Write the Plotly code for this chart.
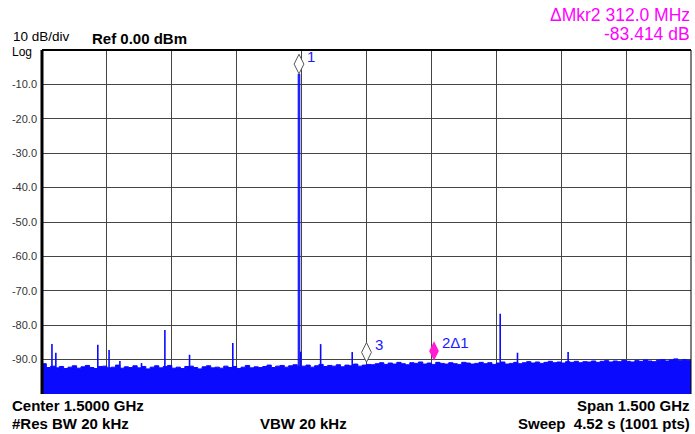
import plotly.graph_objects as go

# ---------------- data ----------------
start_mhz = 750.0
stop_mhz = 2250.0
floor_step_mhz = 10.0
# noise floor (dBm), hand read, one value per 10 MHz from 750 to 2250 MHz
floor_dbm = [
    -91.2, -92.3, -91.9, -92.4, -92.0, -92.6, -92.2, -91.8, -92.5, -92.1, -91.7, -92.3, -92.6,
    -92.0, -91.9, -92.4, -92.2, -91.6, -92.5, -92.1, -92.3, -91.8, -92.4, -92.0, -92.7, -92.2,
    -91.8, -92.4, -92.0, -91.7, -92.5, -92.2, -92.6, -92.0, -91.9, -92.3, -92.7, -92.1, -91.8,
    -92.4, -92.2, -92.5, -91.9, -92.3, -92.0, -92.6, -92.2, -91.7, -92.4, -92.1, -92.3,
    -92.0, -91.6, -92.3, -91.9, -91.7, -92.2, -91.8, -91.5, -92.1, -91.9, -91.6, -92.2, -91.8,
    -91.4, -92.0, -91.7, -91.9, -91.5, -92.1, -91.6, -91.8, -91.3, -91.9, -91.6, -91.4,
    -91.5, -91.2, -90.9, -91.4, -91.0, -91.3, -90.8, -91.2, -91.5, -90.9, -91.1, -90.7, -91.3,
    -91.0, -91.4, -90.8, -91.1, -91.3, -90.9, -91.2, -91.4, -90.8, -91.0, -91.3, -91.1,
    -90.8, -91.2, -90.9, -91.4, -91.0, -90.7, -91.3, -91.1, -90.8, -91.2, -90.9, -90.6, -91.0,
    -90.7, -91.1, -90.8, -90.5, -90.9, -90.7, -91.0, -90.6, -90.8, -90.5, -90.9, -90.6,
    -90.7, -90.4, -90.8, -90.5, -90.3, -90.7, -90.4, -90.6, -90.2, -90.5, -90.7, -90.3, -90.5,
    -90.1, -90.4, -90.6, -90.2, -90.0, -90.4, -90.1, -89.8, -90.3, -90.0, -90.2, -89.9,
]

# spurs (MHz, dBm)
spur_freqs = [773, 782, 879, 905, 930, 980, 1034, 1091, 1191, 1348, 1394, 1467, 1809, 1849, 1966]
spur_levels = [-85.5, -88.0, -85.7, -87.2, -90.4, -91.0, -81.4, -88.6, -85.2, -87.7, -85.5, -87.8,
               -76.7, -88.0, -87.8]

# carrier
carrier_freq = 1344.0
carrier_level = -7.0

# markers
mkr_freqs = [1344.0, 1656.0, 1500.0]
mkr_levels = [-7.0, -90.4, -90.8]
mkr_labels = ["1", "2\u03941", "3"]

y_ticks = [-90, -80, -70, -60, -50, -40, -30, -20, -10]
y_tick_text = ["-90.0", "-80.0", "-70.0", "-60.0", "-50.0", "-40.0", "-30.0", "-20.0", "-10.0"]

# ---------------- figure ----------------
W, H = 695, 434
ML, MR, MT, MB = 42, 4, 50, 40
plot_w = W - ML - MR
plot_h = H - MT - MB
BLUE = "#0a0aff"
MAG = "#ff00ff"
FONT = "Arial, Liberation Sans"

floor_f = [start_mhz + i * floor_step_mhz for i in range(len(floor_dbm))]

fig = go.Figure()
fig.add_trace(go.Scatter(x=[start_mhz, stop_mhz], y=[-100, -100], mode="lines",
                         line=dict(width=0, color=BLUE), showlegend=False, hoverinfo="skip"))
fig.add_trace(go.Scatter(x=floor_f, y=floor_dbm, mode="lines", fill="tonexty",
                         fillcolor=BLUE, line=dict(width=1, color=BLUE, shape="hv"),
                         showlegend=False, hoverinfo="skip"))

sx, sy = [], []
for f, lv in zip(spur_freqs, spur_levels):
    sx += [f, f, None]
    sy += [-93, lv, None]
fig.add_trace(go.Scatter(x=sx, y=sy, mode="lines", line=dict(width=1.6, color=BLUE),
                         showlegend=False, hoverinfo="skip"))

# carrier drawn as two adjacent trace lines
cx, cy = [], []
for df in (-1.6, 1.6):
    cx += [carrier_freq + df, carrier_freq + df, None]
    cy += [-93, carrier_level, None]
fig.add_trace(go.Scatter(x=cx, y=cy, mode="lines", line=dict(width=1.2, color=BLUE),
                         showlegend=False, hoverinfo="skip"))

# marker diamonds (bottom tip at trace level)
db_per_px = 100.0 / plot_h
half_h_px = 10
for i, (f, lv) in enumerate(zip(mkr_freqs, mkr_levels)):
    is_delta = i == 1
    fig.add_trace(go.Scatter(
        x=[f], y=[lv + half_h_px * db_per_px], mode="markers",
        marker=dict(symbol="diamond-tall", size=14,
                    color="#ff1ed2" if is_delta else "white",
                    line=dict(width=1 if not is_delta else 0, color="#555555")),
        showlegend=False, hoverinfo="skip"))
    fig.add_annotation(x=f, y=lv + 2 * half_h_px * db_per_px, xref="x", yref="y",
                       text=mkr_labels[i], showarrow=False, xanchor="left", yanchor="middle",
                       xshift=6, yshift=-2, font=dict(family=FONT, size=15, color="#1a1aff"))


def pxx(x):
    return (x - ML) / plot_w


def pxy(y):
    return (H - MB - y) / plot_h


def txt(x, y, s, anchor="left", size=13, color="black", bold=True):
    fig.add_annotation(x=pxx(x), y=pxy(y), xref="paper", yref="paper",
                       text=("<b>%s</b>" % s) if bold else s, showarrow=False,
                       xanchor=anchor, yanchor="middle", borderpad=0,
                       font=dict(family=FONT, size=size, color=color))


txt(12, 37, "10 dB/div", size=13.5, bold=False)
txt(11, 52, "Log", size=12, bold=False)
txt(91, 39, "Ref 0.00 dBm", size=15)
txt(691, 15, "\u0394Mkr2 312.0 MHz", anchor="right", size=17.5, color=MAG, bold=False)
txt(691, 34, "-83.414 dB", anchor="right", size=17.5, color=MAG, bold=False)
txt(11, 405, "Center 1.5000 GHz", size=15)
txt(11, 423, "#Res BW 20 kHz", size=15)
txt(303, 423, "VBW 20 kHz", anchor="center", size=15)
txt(691, 405, "Span 1.500 GHz", anchor="right", size=15)
txt(691, 423, "Sweep  4.52 s (1001 pts)", anchor="right", size=15)

# frame
fig.add_shape(type="line", xref="paper", yref="paper", x0=0, x1=1, y0=1, y1=1,
              line=dict(color="black", width=2))
fig.add_shape(type="line", xref="paper", yref="paper", x0=0, x1=0, y0=0, y1=1,
              line=dict(color="black", width=3))
fig.add_shape(type="line", xref="paper", yref="paper", x0=1, x1=1, y0=0, y1=1,
              line=dict(color="black", width=1))

fig.update_layout(
    width=W, height=H,
    margin=dict(l=ML, r=MR, t=MT, b=MB),
    paper_bgcolor="white", plot_bgcolor="white",
    xaxis=dict(range=[start_mhz, stop_mhz], dtick=150, tick0=start_mhz, showticklabels=False,
               showgrid=True, gridcolor="#444444", gridwidth=1, zeroline=False, ticks=""),
    yaxis=dict(range=[-100, 0], tickvals=y_ticks, ticktext=y_tick_text, showgrid=True,
               gridcolor="#444444", gridwidth=1, zeroline=False, ticks="", ticklabelstandoff=4,
               tickfont=dict(family=FONT, size=11, color="#333333")),
)

fig.write_html("out.html")
